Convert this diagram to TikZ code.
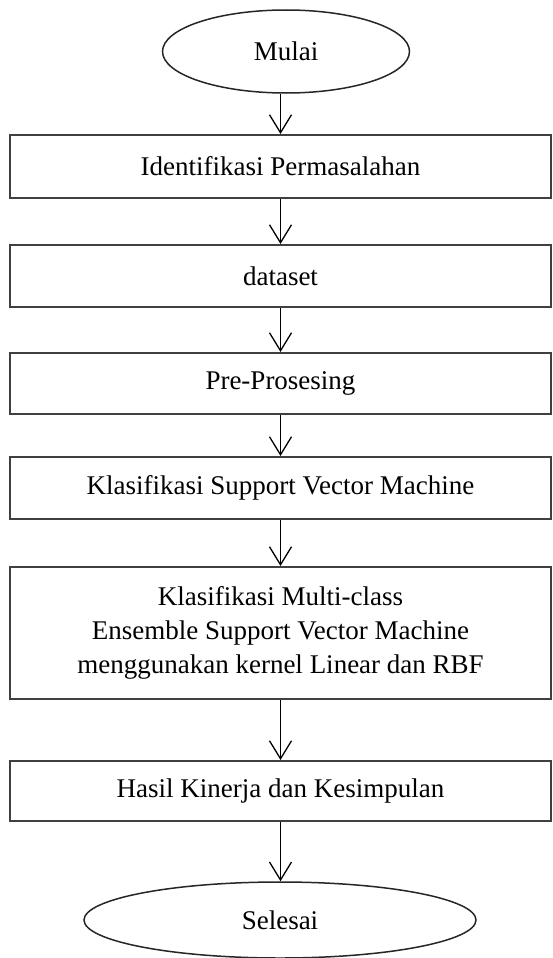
\documentclass[tikz,border=0pt]{standalone}
\usepackage{fontspec}
\setmainfont{Liberation Serif}
\usetikzlibrary{shapes.geometric,arrows.meta}

\begin{document}
\begin{tikzpicture}[x=1pt, y=-1pt, >={Straight Barb[length=18pt,width=22pt]},
		every node/.style={font=\fontsize{27}{34}\selectfont, align=center, inner sep=0pt},
		terminal/.style={draw=black!85, line width=1.5pt, ellipse},
		process/.style={draw=black!75, line width=2pt, rectangle, minimum width=541pt},
		flow/.style={->, line width=1.3pt}]
	\useasboundingbox (0,0) rectangle (553,958);
	% awal dan akhir
	\node[terminal, minimum width=247pt, minimum height=83pt] (mulai) at (286,51.5) {Mulai};
	\node[terminal, minimum width=392pt, minimum height=76pt] (selesai) at (280,920) {Selesai};
	% tahapan
	\node[process, minimum height=63pt] (identifikasi) at (280.5,166.5) {Identifikasi Permasalahan};
	\node[process, minimum height=62pt] (dataset) at (280.5,276) {dataset};
	\node[process, minimum height=61pt] (prepro) at (280.5,383.5) {Pre-Prosesing};
	\node[process, minimum height=62pt] (svm) at (280.5,488) {Klasifikasi Support Vector Machine};
	\node[process, minimum height=132pt] (ensemble) at (280.5,633)
		{Klasifikasi Multi-class\\ Ensemble Support Vector Machine\\ menggunakan kernel Linear dan RBF};
	\node[process, minimum height=60pt] (hasil) at (280.5,791) {Hasil Kinerja dan Kesimpulan};
	% panah
	\draw[flow] (mulai.south -| identifikasi.north) -- (identifikasi.north);
	\draw[flow] (identifikasi) -- (dataset);
	\draw[flow] (dataset) -- (prepro);
	\draw[flow] (prepro) -- (svm);
	\draw[flow] (svm) -- (ensemble);
	\draw[flow] (ensemble) -- (hasil);
	\draw[flow] (hasil.south) -- (hasil.south |- selesai.north);
\end{tikzpicture}
\end{document}
